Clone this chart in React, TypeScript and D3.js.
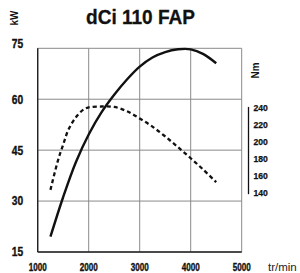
import { useMemo } from "react";
import * as d3 from "d3";

// engine speed (tr/min) and curves
const powerRpm = [1250, 1500, 1750, 2000, 2250, 2500, 2750, 3000, 3250, 3500, 3750, 4000, 4250, 4500];
const powerKw = [19.5, 31.2, 41.5, 49.6, 56.1, 61.3, 65.8, 69.6, 72.3, 73.9, 74.7, 74.7, 73.3, 70.6];

const torqueRpm = [1250, 1400, 1500, 1600, 1750, 1900, 2000, 2250, 2500, 2750, 3000, 3250, 3500, 3750, 4000, 4250, 4500];
const torqueNm = [144, 179, 197, 214, 229, 238, 240.5, 241.5, 241, 236, 227.5, 218, 206.5, 194, 181, 167.5, 153];

const rpmTicks = [1000, 2000, 3000, 4000, 5000];
const kwTicks = [15, 30, 45, 60, 75];
const nmTicks = [140, 160, 180, 200, 220, 240];

const W = 300;
const H = 273;
const font = "'Liberation Sans', Arial, sans-serif";

// condensed bold label: no narrow face installed, so squeeze horizontally
function Cond({ x, y, size, anchor = "middle", sx = 0.78, children }: any) {
  return (
    <text transform={`translate(${x},${y}) scale(${sx},1)`} textAnchor={anchor} dominantBaseline="central"
      fontFamily={font} fontWeight="bold" fontSize={size} fill="#111" stroke="#111" strokeWidth={0.35}>
      {children}
    </text>
  );
}

export default function App() {
  const x = d3.scaleLinear().domain([1000, 5000]).range([37.7, 241.7]);
  const yP = d3.scaleLinear().domain([15, 75]).range([252, 48.3]);
  const yT = d3.scaleLinear().domain([140, 240]).range([193.3, 107.8]);

  const powerPath = useMemo(
    () =>
      d3
        .line<number>()
        .x((_, i) => x(powerRpm[i]))
        .y((d) => yP(d))
        .curve(d3.curveCatmullRom)(powerKw) ?? "",
    []
  );
  const torquePath = useMemo(
    () =>
      d3
        .line<number>()
        .x((_, i) => x(torqueRpm[i]))
        .y((d) => yT(d))
        .curve(d3.curveCatmullRom)(torqueNm) ?? "",
    []
  );

  const [x0, x1] = x.range();
  const [y0, y1] = yP.range();

  return (
    <svg width={W} height={H} style={{ position: "absolute", left: 0, top: 0, background: "#fff" }}>
      {/* title */}
      <text x={140.5} y={24} textAnchor="middle" fontFamily={font} fontWeight="bold" fontSize={20}
        textLength={109} lengthAdjust="spacingAndGlyphs" fill="#111" stroke="#111" strokeWidth={0.3}>
        dCi 110 FAP
      </text>

      {/* grid */}
      {rpmTicks.map((t) => (
        <line key={"vx" + t} x1={x(t)} x2={x(t)} y1={y1} y2={y0} stroke="#8a8a8a" strokeWidth={1} />
      ))}
      {kwTicks.map((t) => (
        <line key={"hy" + t} x1={x0} x2={x1} y1={yP(t)} y2={yP(t)} stroke="#8a8a8a" strokeWidth={1} />
      ))}
      {/* main axes */}
      <line x1={x0} x2={x0} y1={y1} y2={y0} stroke="#222" strokeWidth={1.4} />
      <line x1={x0} x2={x1} y1={y0} y2={y0} stroke="#222" strokeWidth={1.6} />

      {/* kW axis */}
      <text transform="translate(14,18) rotate(-90) scale(0.9,1)" textAnchor="middle" dominantBaseline="central"
        fontFamily={font} fontWeight="bold" fontSize={11} fill="#111">
        kW
      </text>
      {kwTicks.map((t) => (
        <Cond key={"kl" + t} x={17.5} y={t === 75 ? yP(t) - 4.5 : yP(t)} size={12.5} sx={0.82}>
          {t}
        </Cond>
      ))}

      {/* rpm axis */}
      {rpmTicks.map((t) => (
        <Cond key={"rl" + t} x={x(t)} y={267} size={11} sx={0.74}>
          {t}
        </Cond>
      ))}
      <text x={268} y={267} dominantBaseline="central" fontFamily={font} fontSize={11.5} fill="#222">
        tr/min
      </text>

      {/* Nm axis */}
      <text transform="translate(255,70.5) rotate(-90) scale(0.9,1)" textAnchor="middle" dominantBaseline="central"
        fontFamily={font} fontWeight="bold" fontSize={11} fill="#111">
        Nm
      </text>
      <line x1={248.5} x2={248.5} y1={yT(241)} y2={yT(139)} stroke="#111" strokeWidth={1.3} />
      {nmTicks.map((t) => (
        <text key={"nl" + t} x={253.5} y={yT(t)} dominantBaseline="central"
          fontFamily={font} fontWeight="bold" fontSize={8.6} fill="#111" stroke="#111" strokeWidth={0.25}>
          {t}
        </text>
      ))}

      {/* curves */}
      <path d={torquePath} fill="none" stroke="#111" strokeWidth={2.3} strokeDasharray="4 3" />
      <path d={powerPath} fill="none" stroke="#111" strokeWidth={2.4} />
    </svg>
  );
}
